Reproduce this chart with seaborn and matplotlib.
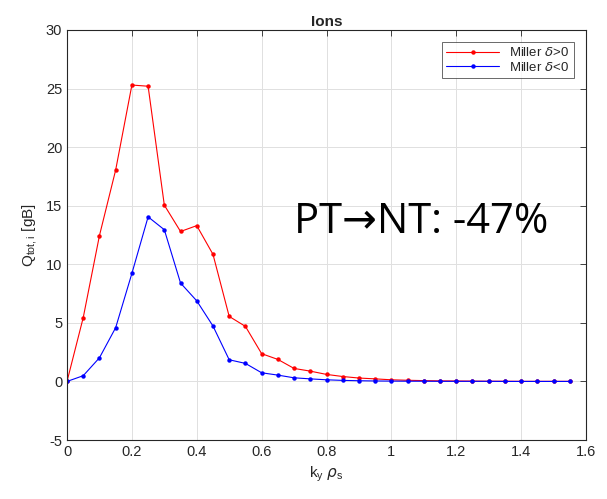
import numpy as np
import pandas as pd
import matplotlib
matplotlib.use("Agg")
import matplotlib.pyplot as plt
import seaborn as sns

ky = [0.0, 0.05, 0.10, 0.15, 0.20, 0.25, 0.30, 0.35, 0.40, 0.45, 0.50, 0.55, 0.60, 0.65,
      0.70, 0.75, 0.80, 0.85, 0.90, 0.95, 1.00, 1.05, 1.10, 1.15, 1.20, 1.25, 1.30, 1.35,
      1.40, 1.45, 1.50, 1.55]
q_pos = [0.0, 5.45, 12.45, 18.05, 25.3, 25.2, 15.05, 12.8, 13.3, 10.85, 5.55, 4.7, 2.37, 1.88,
         1.11, 0.88, 0.6, 0.42, 0.29, 0.22, 0.14, 0.1, 0.07, 0.05, 0.04, 0.03, 0.02, 0.02,
         0.01, 0.01, 0.01, 0.01]
q_neg = [0.0, 0.49, 2.02, 4.59, 9.22, 14.05, 12.95, 8.4, 6.88, 4.73, 1.85, 1.54, 0.74, 0.54,
         0.31, 0.22, 0.14, 0.09, 0.06, 0.04, 0.03, 0.02, 0.02, 0.01, 0.01, 0.01, 0.01, 0.0,
         0.0, 0.0, 0.0, 0.0]
labels = [r"Miller $\delta$>0", r"Miller $\delta$<0"]
colors = ["#ff0000", "#0000ff"]
x_ticks = [0, 0.2, 0.4, 0.6, 0.8, 1, 1.2, 1.4, 1.6]
y_ticks = [-5, 0, 5, 10, 15, 20, 25, 30]

df = pd.concat([
    pd.DataFrame({"ky": ky, "Q": q_pos, "case": labels[0]}),
    pd.DataFrame({"ky": ky, "Q": q_neg, "case": labels[1]}),
])

sns.set_style("white")
plt.rcParams["font.family"] = ["Liberation Sans", "DejaVu Sans"]
plt.rcParams["mathtext.fontset"] = "dejavusans"
plt.rcParams["axes.unicode_minus"] = False

fig = plt.figure(figsize=(6.07, 4.99), dpi=100)
ax = fig.add_axes([0.1104, 0.1182, 0.855, 0.8217])

sns.lineplot(data=df, x="ky", y="Q", hue="case", palette=colors, marker="o",
             markersize=3.2, markeredgewidth=0, linewidth=0.8, ax=ax, sort=False)

ax.set_xlim(0, 1.6)
ax.set_ylim(-5, 30)
ax.set_xticks(x_ticks)
ax.set_xticklabels([f"{t:g}" for t in x_ticks])
ax.set_yticks(y_ticks)
ax.set_yticklabels([f"{t:g}" for t in y_ticks])
ax.grid(True, color="#e0e0e0", linewidth=0.7)
ax.set_axisbelow(True)
for s in ax.spines.values():
    s.set_color("#262626")
    s.set_linewidth(0.8)
ax.tick_params(direction="in", length=4, top=True, right=True, labelsize=10.5,
               color="#262626", labelcolor="#262626", width=0.6)

ax.set_xlabel(r"k$_\mathregular{y}$ $\rho_\mathregular{s}$", fontsize=11, color="#262626")
ax.set_ylabel(r"Q$_\mathregular{tot,i}$ [gB]", fontsize=11, color="#262626")
ax.set_title("Ions", fontsize=11, fontweight="bold", pad=3)

leg = ax.legend(loc="upper right", fontsize=9.5, frameon=True, fancybox=False,
                edgecolor="#262626", handlelength=4.0, borderaxespad=0.9,
                labelspacing=0.1, borderpad=0.35)
leg.get_frame().set_linewidth(0.6)
leg.set_title(None)

ax.text(0.437, 0.505, "PT→NT: -47%", transform=ax.transAxes, fontsize=30,
        family=["Open Sans", "DejaVu Sans"], ha="left", va="baseline", color="black")

fig.savefig("out.png", dpi=100)
